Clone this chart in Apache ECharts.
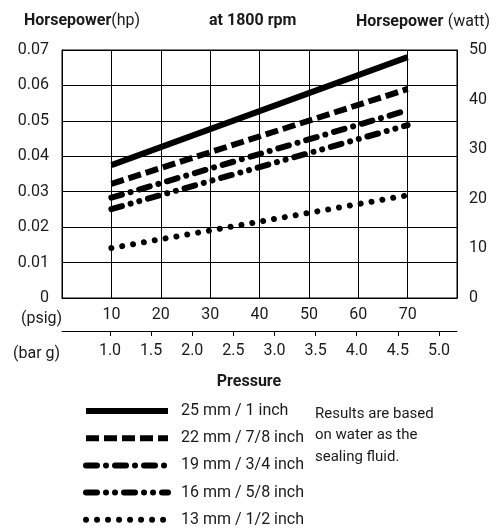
<!DOCTYPE html>
<html>
<head>
<meta charset="utf-8">
<script src="https://cdn.jsdelivr.net/npm/echarts@6/dist/echarts.min.js"></script>
<style>
html,body{margin:0;padding:0;background:#fff;}
#chart{width:498px;height:529px;}
</style>
</head>
<body>
<div id="chart"></div>
<script>
// ---- data ----
const psigTicks = [10, 20, 30, 40, 50, 60, 70];
const barTicks = [1.0, 1.5, 2.0, 2.5, 3.0, 3.5, 4.0, 4.5, 5.0];
const seriesNames = ['25 mm / 1 inch', '22 mm / 7/8 inch', '19 mm / 3/4 inch', '16 mm / 5/8 inch', '13 mm / 1/2 inch'];
const pressurePsig = [10, 70];
const hp25 = [0.0375, 0.0680];
const hp22 = [0.0322, 0.0590];
const hp19 = [0.0283, 0.0530];
const hp16 = [0.0251, 0.0488];
const hp13 = [0.0141, 0.0290];
const noteText = 'Results are based\non water as the\nsealing fluid.';

const FONT = 'Roboto, "Liberation Sans", sans-serif';
const TXT = '#1a1a1a';

const values = [hp25, hp22, hp19, hp16, hp13];
const styles = [
  {width: 6, type: 'solid', cap: 'butt'},
  {width: 6, type: [13, 5], cap: 'butt'},
  {width: 6, type: [11, 9, 0.01, 9], cap: 'round'},
  {width: 6, type: [11, 9, 0.01, 9, 0.01, 9], cap: 'round'},
  {width: 6, type: [0.01, 11], cap: 'round'}
];

const series = values.map((vals, i) => ({
  name: seriesNames[i],
  type: 'line',
  xAxisIndex: 0,
  yAxisIndex: 0,
  symbol: 'none',
  silent: true,
  animation: false,
  data: pressurePsig.map((p, j) => [p, vals[j]]),
  lineStyle: Object.assign({color: '#000'}, styles[i]),
  itemStyle: {color: '#000'}
}));

const legendData = seriesNames.map((n, i) => ({
  name: n,
  itemStyle: {opacity: 0, color: 'transparent', borderWidth: 0},
  lineStyle: Object.assign({color: '#000'}, styles[i])
}));

const chart = echarts.init(document.getElementById('chart'), null, {renderer: 'canvas'});
chart.setOption({
  animation: false,
  backgroundColor: '#fff',
  textStyle: {fontFamily: FONT, color: TXT},
  grid: {left: 62, right: 41, top: 50, bottom: 231, show: true, borderColor: '#000', borderWidth: 1},
  title: [
    {text: '{b|Horsepower}{n|(hp)}', left: 19, top: 8, textStyle: {fontWeight: 'normal', rich: {
      b: {fontFamily: FONT, fontWeight: 'bold', fontSize: 16, color: TXT},
      n: {fontFamily: FONT, fontWeight: 'normal', fontSize: 16, color: TXT}}}},
    {text: 'at 1800 rpm', left: 204, top: 8, textStyle: {fontFamily: FONT, fontWeight: 'bold', fontSize: 16, color: TXT}},
    {text: '{b|Horsepower} {n|(watt)}', right: 3, top: 8, textStyle: {fontWeight: 'normal', rich: {
      b: {fontFamily: FONT, fontWeight: 'bold', fontSize: 16, color: TXT},
      n: {fontFamily: FONT, fontWeight: 'normal', fontSize: 16, color: TXT}}}},
    {text: 'Pressure', left: 'center', top: 369, textStyle: {fontFamily: FONT, fontWeight: 'bold', fontSize: 16, color: TXT}},
    {text: '(psig)', left: 16, top: 306, textStyle: {fontFamily: FONT, fontWeight: 'normal', fontSize: 16, color: TXT}},
    {text: '(bar g)', left: 8, top: 341, textStyle: {fontFamily: FONT, fontWeight: 'normal', fontSize: 16, color: TXT}},
    {text: noteText, left: 310, top: 398, textStyle: {fontFamily: FONT, fontWeight: 'normal', fontSize: 15, lineHeight: 21.5, color: TXT}}
  ],
  legend: {
    orient: 'vertical',
    left: 83,
    top: 403,
    padding: 0,
    height: 140,
    itemWidth: 82,
    itemHeight: 14,
    itemGap: 11.2,
    selectedMode: false,
    data: legendData,
    textStyle: {fontFamily: FONT, fontSize: 16, lineHeight: 14, color: TXT, padding: [0, 0, 0, 8]}
  },
  xAxis: [
    {
      type: 'value', gridIndex: 0, position: 'bottom',
      min: 0, max: 80, interval: 10,
      axisLine: {show: true, lineStyle: {color: '#000', width: 1}},
      axisTick: {show: false},
      splitLine: {show: true, lineStyle: {color: '#000', width: 1}},
      axisLabel: {customValues: psigTicks, fontFamily: FONT, fontSize: 16, color: TXT, margin: 9}
    },
    {
      type: 'value', gridIndex: 0, position: 'bottom', offset: 33,
      min: 0.4164, max: 5.219,
      axisLine: {show: true, onZero: false, lineStyle: {color: '#000', width: 1}},
      axisTick: {show: true, customValues: barTicks, length: 5, inside: false, lineStyle: {color: '#000'}},
      splitLine: {show: false},
      axisLabel: {customValues: barTicks, formatter: v => v.toFixed(1), fontFamily: FONT, fontSize: 16, color: TXT, margin: 12}
    }
  ],
  yAxis: [
    {
      type: 'value', gridIndex: 0, position: 'left',
      min: 0, max: 0.07, interval: 0.01,
      axisLine: {show: true, lineStyle: {color: '#000'}},
      axisTick: {show: false},
      splitLine: {show: true, lineStyle: {color: '#000', width: 1}},
      axisLabel: {formatter: v => v === 0 ? '0' : v.toFixed(2), fontFamily: FONT, fontSize: 16, color: TXT, margin: 13}
    },
    {
      type: 'value', gridIndex: 0, position: 'right',
      min: 0, max: 50, interval: 10,
      axisLine: {show: true, lineStyle: {color: '#000'}},
      axisTick: {show: false},
      splitLine: {show: false},
      axisLabel: {fontFamily: FONT, fontSize: 16, color: TXT, margin: 12}
    }
  ],
  series: series
});
</script>
</body>
</html>
